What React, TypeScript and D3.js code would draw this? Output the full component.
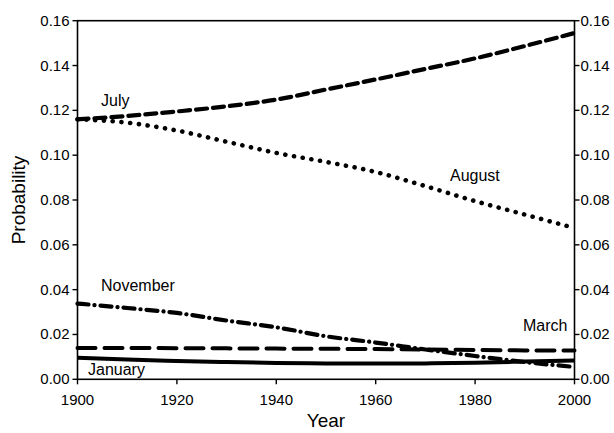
import React from "react";
import * as d3 from "d3";

const years = [1900, 1910, 1920, 1930, 1940, 1950, 1960, 1970, 1980, 1990, 2000];
const july = [0.116, 0.1175, 0.1195, 0.1218, 0.1248, 0.1293, 0.1338, 0.1385, 0.1432, 0.1487, 0.1545];
const august = [0.116, 0.1145, 0.111, 0.106, 0.101, 0.097, 0.0925, 0.0862, 0.0795, 0.0735, 0.0675];
const november = [0.0338, 0.0318, 0.0296, 0.0262, 0.0232, 0.0192, 0.0164, 0.0133, 0.0104, 0.0077, 0.0055];
const march = [0.014, 0.014, 0.0139, 0.0138, 0.0137, 0.0136, 0.0135, 0.0133, 0.0131, 0.0129, 0.0128];
const january = [0.0096, 0.0088, 0.0082, 0.0077, 0.0073, 0.0071, 0.007, 0.0071, 0.0074, 0.0079, 0.0084];

const xTicks = [1900, 1920, 1940, 1960, 1980, 2000];
const yTicks = [0, 0.02, 0.04, 0.06, 0.08, 0.1, 0.12, 0.14, 0.16];

const FONT = "'Liberation Sans', Arial, Helvetica, sans-serif";

export default function App() {
  const W = 614, H = 433;
  const left = 77.5, right = 574.5, top = 20.7, bottom = 379.3;
  const x = d3.scaleLinear().domain([1900, 2000]).range([left, right]);
  const y = d3.scaleLinear().domain([0, 0.16]).range([bottom, top]);
  const line = (vals: number[]) =>
    d3.line<number>()
      .x((_, i) => x(years[i]))
      .y((v) => y(v))
      .curve(d3.curveMonotoneX)(vals) as string;

  const series = [
    { name: "July", vals: july, dash: "11,6", w: 4.2 },
    { name: "August", vals: august, dash: "0.1,8.7", w: 4.6 },
    { name: "November", vals: november, dash: "11,6,0.1,6", w: 4.2 },
    { name: "March", vals: march, dash: "18,9", w: 4 },
    { name: "January", vals: january, dash: "none", w: 4 },
  ];

  const labels = [
    { t: "July", x: 101, y: 106 },
    { t: "August", x: 450, y: 181 },
    { t: "November", x: 101, y: 291 },
    { t: "March", x: 523, y: 331 },
    { t: "January", x: 88, y: 375 },
  ];

  return (
    <svg width={W} height={H} style={{ position: "absolute", left: 0, top: 0, background: "#fff" }} fontFamily={FONT}>
      <rect x={0} y={0} width={W} height={H} fill="#fff" />
      {series.map((s) => (
        <path
          key={s.name}
          d={line(s.vals)}
          fill="none"
          stroke="#000"
          strokeWidth={s.w}
          strokeDasharray={s.dash}
          strokeLinecap={s.dash === "none" ? "butt" : "round"}
        />
      ))}
      <rect x={left} y={top} width={right - left} height={bottom - top} fill="none" stroke="#000" strokeWidth={1.6} />
      {yTicks.map((t) => (
        <g key={"y" + t}>
          <line x1={left - 5} x2={left} y1={y(t)} y2={y(t)} stroke="#000" strokeWidth={1.4} />
          <line x1={right} x2={right + 5} y1={y(t)} y2={y(t)} stroke="#000" strokeWidth={1.4} />
          <text x={left - 8} y={y(t) + 5} textAnchor="end" fontSize={15}>{t.toFixed(2)}</text>
          <text x={right + 6} y={y(t) + 5} textAnchor="start" fontSize={15}>{t.toFixed(2)}</text>
        </g>
      ))}
      {xTicks.map((t) => (
        <g key={"x" + t}>
          <line x1={x(t)} x2={x(t)} y1={bottom} y2={bottom + 5} stroke="#000" strokeWidth={1.4} />
          <text x={x(t)} y={405} textAnchor="middle" fontSize={15}>{t}</text>
        </g>
      ))}
      {labels.map((l) => (
        <text key={l.t} x={l.x} y={l.y} fontSize={16}>{l.t}</text>
      ))}
      <text x={(left + right) / 2} y={427} textAnchor="middle" fontSize={19}>Year</text>
      <text transform={`translate(25,${(top + bottom) / 2}) rotate(-90)`} textAnchor="middle" fontSize={19}>Probability</text>
    </svg>
  );
}
